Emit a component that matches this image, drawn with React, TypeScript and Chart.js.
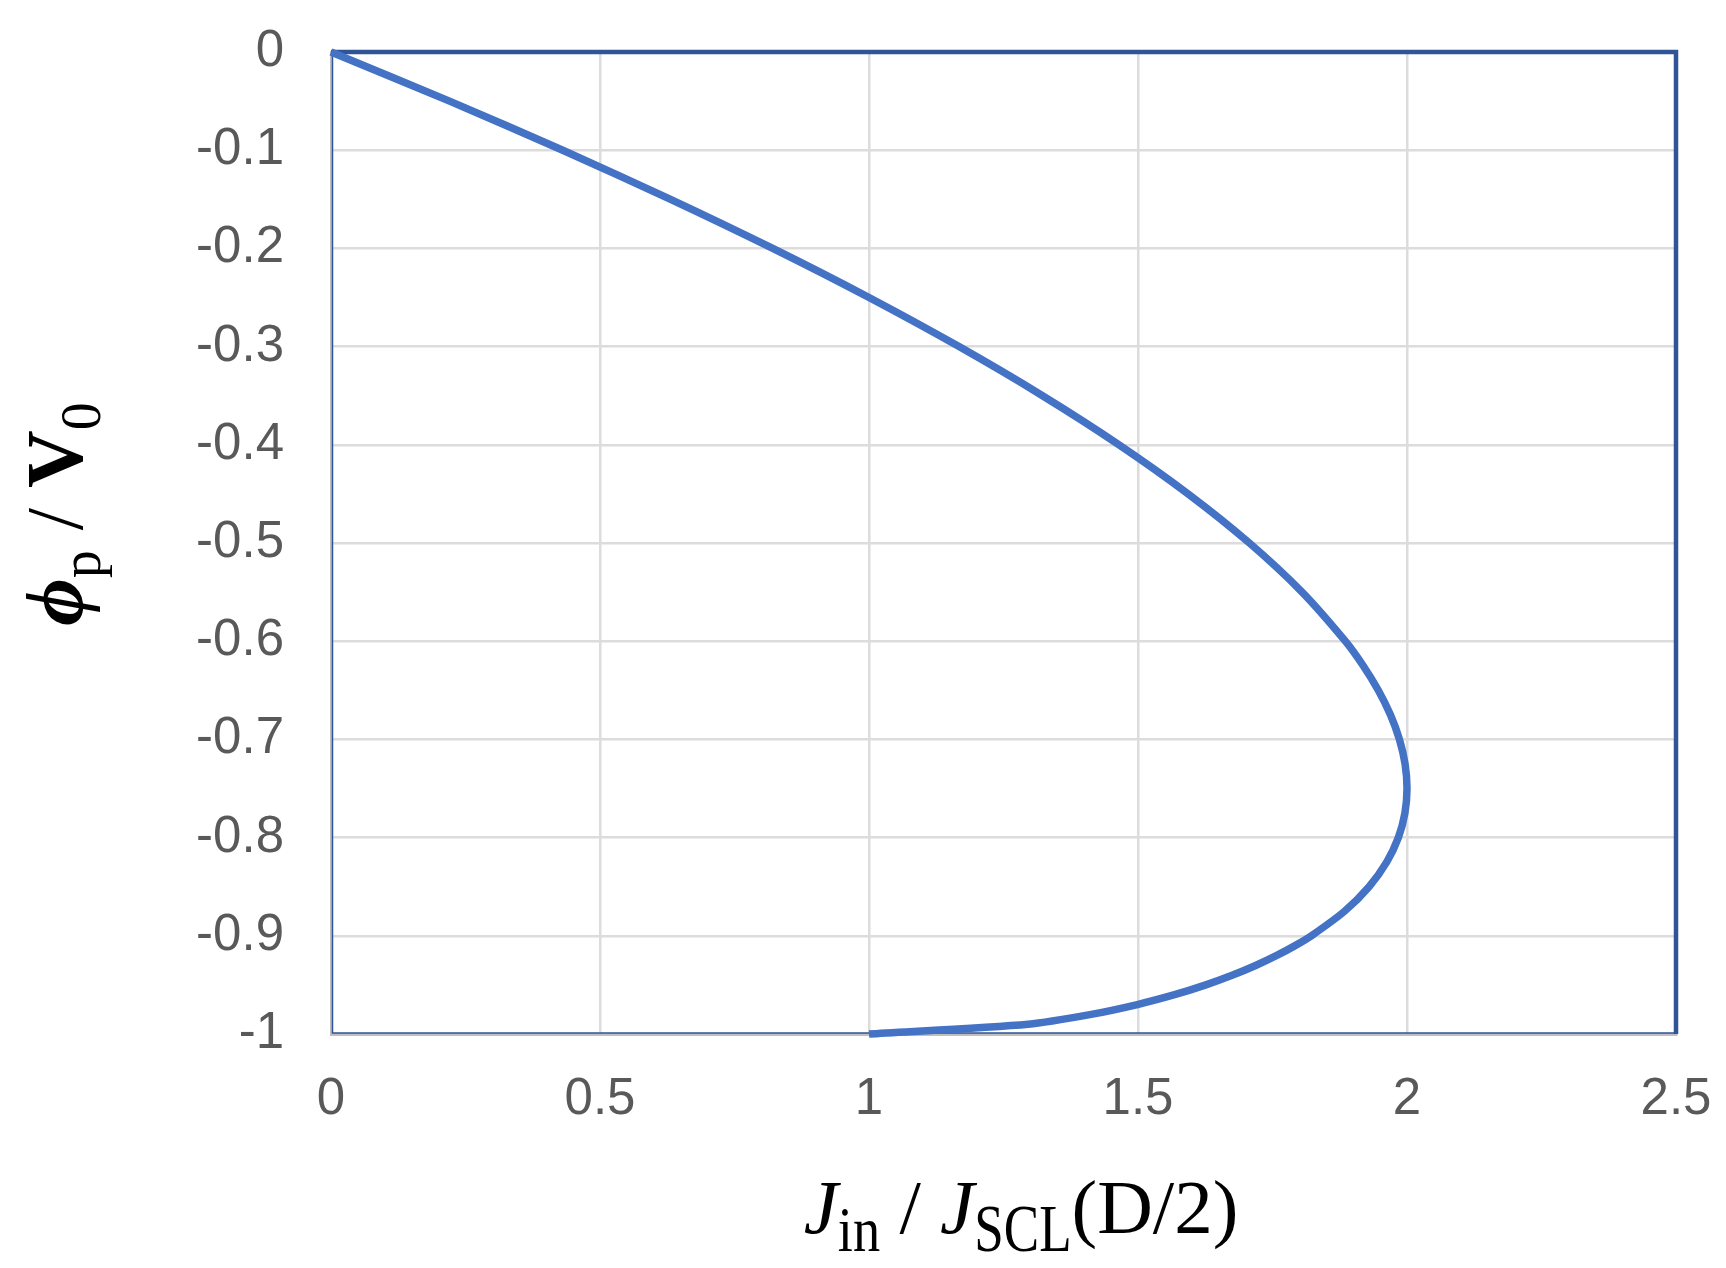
import React, { useEffect, useRef } from "react";
import { Chart, registerables } from "chart.js";

Chart.register(...registerables);

// Normalized potential minimum phi_p / V0 (y) and injected current J_in / J_SCL(D/2) (x)
const phiValues = [
  0, -0.05, -0.1, -0.15, -0.2, -0.25, -0.3, -0.35, -0.4, -0.45, -0.5, -0.55, -0.6,
  -0.625, -0.65, -0.675, -0.7, -0.725, -0.75, -0.775, -0.8, -0.825, -0.85, -0.875,
  -0.9, -0.91, -0.92, -0.93, -0.94, -0.95, -0.96, -0.97, -0.98, -0.99, -1,
];
const jValues = [
  0, 0.2203, 0.4308, 0.6312, 0.8211, 1.0, 1.1673, 1.3225, 1.4648, 1.5933, 1.7071,
  1.805, 1.8854, 1.9186, 1.9466, 1.9692, 1.9859, 1.9964, 2.0, 1.9961, 1.9839,
  1.9622, 1.9295, 1.8839, 1.8222, 1.792, 1.758, 1.7196, 1.6761, 1.6261, 1.568,
  1.4988, 1.413, 1.296, 1.0,
];

const xTickValues = [0, 0.5, 1, 1.5, 2, 2.5];
const xTickLabels = ["0", "0.5", "1", "1.5", "2", "2.5"];
const yTickValues = [0, -0.1, -0.2, -0.3, -0.4, -0.5, -0.6, -0.7, -0.8, -0.9, -1];
const yTickLabels = ["0", "-0.1", "-0.2", "-0.3", "-0.4", "-0.5", "-0.6", "-0.7", "-0.8", "-0.9", "-1"];

type Run = { text: string; font: string; dy: number; sx: number };

function drawRuns(ctx: CanvasRenderingContext2D, runs: Run[], cx: number, baseY: number) {
  let total = 0;
  const widths = runs.map((r) => {
    ctx.font = r.font;
    const w = ctx.measureText(r.text).width * r.sx;
    total += w;
    return w;
  });
  let x = cx - total / 2;
  runs.forEach((r, i) => {
    ctx.save();
    ctx.font = r.font;
    ctx.translate(x, baseY + r.dy);
    ctx.scale(r.sx, 1);
    ctx.textBaseline = "alphabetic";
    ctx.textAlign = "left";
    ctx.fillText(r.text, 0, 0);
    ctx.restore();
    x += widths[i];
  });
}

const SERIF = "'Liberation Serif', 'Times New Roman', serif";
const SANS = "'Liberation Sans', Arial, sans-serif";

const xTitleRuns: Run[] = [
  { text: "J", font: `italic 77px ${SERIF}`, dy: 0, sx: 1 },
  { text: "in", font: `64px ${SERIF}`, dy: 18, sx: 0.85 },
  { text: " / ", font: `77px ${SERIF}`, dy: 0, sx: 1 },
  { text: "J", font: `italic 77px ${SERIF}`, dy: 0, sx: 1 },
  { text: "SCL", font: `68px ${SERIF}`, dy: 18, sx: 0.78 },
  { text: "(D/2)", font: `77px ${SERIF}`, dy: 0, sx: 1 },
];

const yTitleRuns: Run[] = [
  { text: "\u03D5", font: `bold italic 82px ${SERIF}`, dy: 0, sx: 1 },
  { text: "p", font: `56px ${SERIF}`, dy: 18, sx: 1 },
  { text: " / ", font: `80px ${SERIF}`, dy: 0, sx: 1 },
  { text: "V", font: `bold 80px ${SERIF}`, dy: 0, sx: 1 },
  { text: "0", font: `56px ${SERIF}`, dy: 18, sx: 1 },
];

const framePlugin = {
  id: "frame",
  beforeDatasetsDraw(chart: any) {
    const { ctx, chartArea } = chart;
    const { left, right, top, bottom } = chartArea;
    ctx.save();
    ctx.strokeStyle = "#2F5597";
    ctx.lineWidth = 1.5;
    ctx.beginPath();
    ctx.moveTo(left + 1.5, top);
    ctx.lineTo(left + 1.5, bottom - 1);
    ctx.lineTo(right, bottom - 1);
    ctx.stroke();
    ctx.lineWidth = 4.5;
    ctx.beginPath();
    ctx.moveTo(left, top);
    ctx.lineTo(right, top);
    ctx.lineTo(right, bottom);
    ctx.stroke();
    ctx.restore();
  },
  afterDraw(chart: any) {
    const { ctx } = chart;
    ctx.save();
    ctx.fillStyle = "#000000";
    drawRuns(ctx, xTitleRuns, 1021, 1233);
    ctx.restore();
    ctx.save();
    ctx.fillStyle = "#000000";
    ctx.translate(82, 514);
    ctx.rotate(-Math.PI / 2);
    drawRuns(ctx, yTitleRuns, 0, 0);
    ctx.restore();
  },
};

export default function App() {
  const canvasRef = useRef<HTMLCanvasElement | null>(null);

  useEffect(() => {
    document.body.style.margin = "0";
    const canvas = canvasRef.current;
    if (!canvas) return;
    const points = phiValues.map((p, i) => ({ x: jValues[i], y: p }));
    const chart = new Chart(canvas, {
      type: "scatter",
      data: {
        datasets: [
          {
            data: points,
            showLine: true,
            borderColor: "#4472C4",
            backgroundColor: "#4472C4",
            borderWidth: 7.5,
            pointRadius: 0,
            pointHoverRadius: 0,
            tension: 0.25,
            clip: 10,
          } as any,
        ],
      },
      options: {
        responsive: false,
        animation: false,
        devicePixelRatio: 1,
        layout: { autoPadding: false, padding: { top: 52, right: 50, left: 0, bottom: 0 } },
        plugins: {
          legend: { display: false },
          tooltip: { enabled: false },
          title: { display: false },
        },
        scales: {
          x: {
            type: "linear",
            position: "bottom",
            min: 0,
            max: 2.5,
            afterBuildTicks: (scale: any) => {
              scale.ticks = xTickValues.map((v) => ({ value: v }));
            },
            afterFit: (scale: any) => {
              scale.height = 1268 - 1034;
              scale.paddingLeft = 0;
              scale.paddingRight = 0;
            },
            ticks: {
              padding: 35,
              color: "#595959",
              font: { family: SANS, size: 51 },
              maxRotation: 0,
              callback: (v: any) => {
                const i = xTickValues.findIndex((t) => Math.abs(t - Number(v)) < 1e-9);
                return i >= 0 ? xTickLabels[i] : "";
              },
            },
            grid: { color: "#DCDCDC", lineWidth: 2.5, drawTicks: false },
            border: { display: true, color: "#BFBFBF", width: 3 },
          },
          y: {
            type: "linear",
            min: -1,
            max: 0,
            afterBuildTicks: (scale: any) => {
              scale.ticks = yTickValues.map((v) => ({ value: v }));
            },
            afterFit: (scale: any) => {
              scale.width = 331;
              scale.paddingTop = 0;
              scale.paddingBottom = 0;
            },
            ticks: {
              padding: 47,
              color: "#595959",
              font: { family: SANS, size: 51 },
              callback: (v: any) => {
                const i = yTickValues.findIndex((t) => Math.abs(t - Number(v)) < 1e-9);
                return i >= 0 ? yTickLabels[i] : "";
              },
            },
            grid: { color: "#DCDCDC", lineWidth: 2.5, drawTicks: false },
            border: { display: true, color: "#BFBFBF", width: 3 },
          },
        },
      } as any,
      plugins: [framePlugin],
    });
    return () => chart.destroy();
  }, []);

  return (
    <div style={{ width: 1726, height: 1268, background: "#ffffff" }}>
      <canvas ref={canvasRef} width={1726} height={1268} style={{ display: "block" }} />
    </div>
  );
}
